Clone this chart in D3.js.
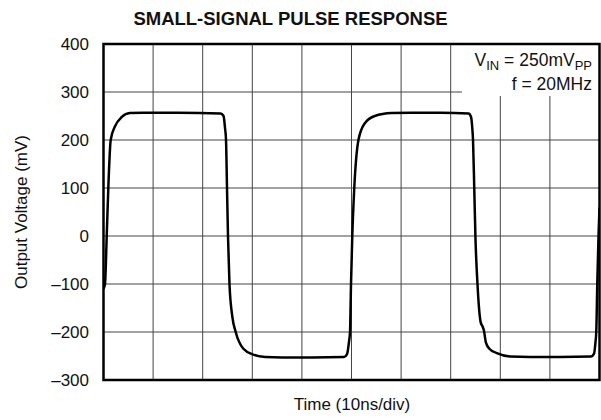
<!DOCTYPE html>
<html>
<head>
<meta charset="utf-8">
<script src="https://cdn.jsdelivr.net/npm/d3@7"></script>
<style>
  body { margin: 0; background: #fff; }
  text { font-family: "Liberation Sans", Arial, sans-serif; fill: #111; }
</style>
</head>
<body>
<script>
// tick values
const yTicks = [-300, -200, -100, 0, 100, 200, 300, 400];
const xDivs = [0, 10, 20, 30, 40, 50, 60, 70, 80, 90, 100];

// waveform (time in ns, output in mV)
const timeNs = [0, 0.3, 0.65, 0.97, 1.45, 2.3, 3.7, 5.3, 8, 15,
  23.6, 24.2, 24.5, 24.7, 24.9, 25.1, 25.4, 26.0, 26.65, 28.2, 30.2, 32.6, 36, 42,
  48.5, 49.1, 49.5, 49.7, 49.9, 50.16, 50.56, 51.4, 52.7, 54.7, 58.1, 62, 68,
  73.6, 74.1, 74.35, 74.5, 74.75, 74.98, 75.4, 76.05, 76.4, 76.7, 77.1, 77.9, 79.3, 81.95, 86, 92,
  98.3, 98.9, 99.2, 99.35, 99.55, 99.8, 100];
const outputMv = [-110, -100, 0, 100, 200, 228, 248, 256, 257, 257,
  255, 250, 225, 200, 100, 0, -100, -170, -200, -235, -247, -252, -253, -253,
  -252, -246, -220, -200, -100, 0, 100, 200, 235, 250, 256, 257, 257,
  255, 248, 225, 200, 100, 0, -100, -180, -188, -197, -222, -236, -244, -251, -252, -252,
  -251, -245, -220, -200, -100, 0, 60];

const width = 601, height = 420;
const pLeft = 103.5, pRight = 599.5, pTop = 44, pBottom = 380;

const svg = d3.select("body").append("svg")
  .attr("width", width)
  .attr("height", height);

const x = d3.scaleLinear().domain([0, 100]).range([pLeft, pRight]);
const y = d3.scaleLinear().domain([-300, 400]).range([pBottom, pTop]);

// griglia
svg.append("g").selectAll("line").data(xDivs).enter().append("line")
  .attr("x1", d => x(d)).attr("x2", d => x(d))
  .attr("y1", pTop).attr("y2", pBottom)
  .style("stroke", "#444").style("stroke-width", 1);
svg.append("g").selectAll("line").data(yTicks).enter().append("line")
  .attr("x1", pLeft).attr("x2", pRight)
  .attr("y1", d => y(d)).attr("y2", d => y(d))
  .style("stroke", "#444").style("stroke-width", 1);

// y tick labels
svg.append("g").selectAll("text").data(yTicks).enter().append("text")
  .attr("x", 89).attr("y", d => y(d) + 6)
  .attr("text-anchor", "end")
  .style("font-size", "17px")
  .text(d => d < 0 ? "\u2013" + Math.abs(d) : d);

// legend box
svg.append("rect")
  .attr("x", 462).attr("y", pTop).attr("width", pRight - 462).attr("height", 52)
  .style("fill", "#fff");
const leg1 = svg.append("text").attr("x", 592).attr("y", 66)
  .attr("text-anchor", "end").style("font-size", "17.5px");
leg1.append("tspan").text("V");
leg1.append("tspan").attr("dy", 4).style("font-size", "13px").text("IN");
leg1.append("tspan").attr("dy", -4).text(" = 250mV");
leg1.append("tspan").attr("dy", 4).style("font-size", "13px").text("PP");
svg.append("text").attr("x", 592).attr("y", 90)
  .attr("text-anchor", "end").style("font-size", "17.5px")
  .text("f = 20MHz");

// curva
svg.append("clipPath").attr("id", "plot")
  .append("rect").attr("x", pLeft).attr("y", pTop)
  .attr("width", pRight - pLeft).attr("height", pBottom - pTop);

const pts = timeNs.map((t, i) => [t, outputMv[i]]);
const line = d3.line()
  .x(d => x(d[0]))
  .y(d => y(d[1]))
  .curve(d3.curveMonotoneX);

svg.append("path")
  .attr("d", line(pts))
  .attr("clip-path", "url(#plot)")
  .style("fill", "none")
  .style("stroke", "#000")
  .style("stroke-width", 2.5)
  .style("stroke-linejoin", "round");

// frame
svg.append("rect")
  .attr("x", pLeft).attr("y", pTop)
  .attr("width", pRight - pLeft).attr("height", pBottom - pTop)
  .style("fill", "none").style("stroke", "#000").style("stroke-width", 2.5);

// titoli
svg.append("text")
  .attr("x", 290.5).attr("y", 25)
  .attr("text-anchor", "middle")
  .style("font-size", "18.5px").style("font-weight", "bold")
  .text("SMALL-SIGNAL PULSE RESPONSE");

svg.append("text")
  .attr("x", 352).attr("y", 410)
  .attr("text-anchor", "middle")
  .style("font-size", "17px")
  .text("Time (10ns/div)");

svg.append("text")
  .attr("transform", `translate(27, ${(pTop + pBottom) / 2}) rotate(-90)`)
  .attr("text-anchor", "middle")
  .style("font-size", "17px")
  .text("Output Voltage (mV)");
</script>
</body>
</html>
